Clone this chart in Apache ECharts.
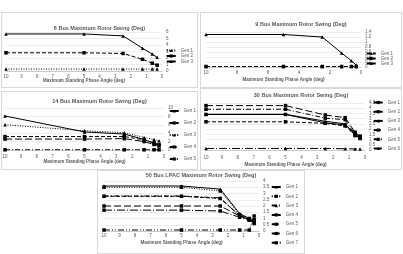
<!DOCTYPE html>
<html>
<head>
<meta charset="utf-8">
<script src="https://cdn.jsdelivr.net/npm/echarts@6/dist/echarts.min.js"></script>
<style>
  body { margin: 0; background: #fff; width: 403px; height: 254px; position: relative; overflow: hidden; }
  .box { position: absolute; border: 1px solid #d9d9d9; box-sizing: border-box; background: #fff; }
</style>
</head>
<body>
<div id="c6" class="box" style="left:1px;top:12px;width:197px;height:76px"></div>
<div id="c9" class="box" style="left:200px;top:12px;width:202px;height:76px"></div>
<div id="c14" class="box" style="left:1px;top:91px;width:197px;height:79px"></div>
<div id="c30" class="box" style="left:200px;top:88px;width:202px;height:82px"></div>
<div id="c50" class="box" style="left:97px;top:170px;width:208px;height:84px"></div>
<script>
// x positions shared by all charts (max standing phase angle, deg)
const phaseAngle = [10, 5, 2.5, 1.25, 0.625, 0.3125];

// 6 bus
const bus6Gen1 = [0.3, 0.3, 0.3, 0.3, 0.3, 0.3];
const bus6Gen2 = [2.8, 2.8, 2.7, 1.8, 1.2, 0.9];
const bus6Gen3 = [5.7, 5.7, 5.4, 3.5, 2.6, 2.1];

// 9 bus
const bus9Gen1 = [0.02, 0.02, 0.02, 0.02, 0.02, 0.02];
const bus9Gen2 = [0.02, 0.02, 0.02, 0.02, 0.02, 0.02];
const bus9Gen3 = [1.3, 1.3, 1.2, 0.56, 0.25, 0.08];

// 14 bus
const bus14Gen1 = [8.1, 4.3, 3.8, 2.5, 1.6, 1.0];
const bus14Gen2 = [3.2, 3.2, 3.2, 2.4, 1.7, 1.3];
const bus14Gen3 = [6.0, 4.6, 4.1, 3.0, 2.5, 2.2];
const bus14Gen4 = [2.6, 2.6, 2.7, 2.0, 1.3, 1.0];
const bus14Gen5 = [0.05, 0.05, 0.05, 0.05, 0.05, 0.05];

// 30 bus
const bus30Gen1 = [3.4, 3.4, 2.6, 2.4, 1.6, 1.3];
const bus30Gen2 = [2.7, 2.7, 2.55, 2.3, 1.4, 1.1];
const bus30Gen3 = [3.42, 3.42, 2.75, 2.5, 1.4, 1.2];
const bus30Gen4 = [4.25, 4.25, 3.35, 3.1, 1.7, 1.3];
const bus30Gen5 = [3.9, 3.9, 3.05, 2.9, 1.5, 1.2];
const bus30Gen6 = [0.15, 0.15, 0.15, 0.12, 0.1, 0.1];

// 50 bus LPAC
const bus50Gen1 = [3.6, 3.6, 3.35, 1.4, 1.0, 0.7];
const bus50Gen2 = [3.5, 3.5, 3.2, 1.3, 0.9, 0.8];
const bus50Gen3 = [2.8, 2.8, 2.65, 1.2, 0.9, 0.8];
const bus50Gen4 = [2.78, 2.78, 2.6, 1.25, 1.0, 0.9];
const bus50Gen5 = [2.0, 2.0, 2.0, 1.2, 0.9, 0.8];
const bus50Gen6 = [1.67, 1.67, 1.6, 1.1, 0.9, 0.6];
const bus50Gen7 = [0.08, 0.08, 0.08, 0.08, 0.08, 1.2];

const TXT = '#595959';
const FONT = 'Liberation Sans';

// dash patterns used by the Excel-style lines
const styles = {
  solid: 'solid',
  dot: [1, 1.5],
  dash: [4, 2],
  longDash: [7, 3],
  dashDot: [5, 2, 1, 2],
  longDashDot: [8, 2, 1, 2],
  dashDotDot: [6, 2, 1, 2, 1, 2]
};

function makeSeries(name, values, dash, symbol) {
  return {
    name: name,
    type: 'line',
    data: phaseAngle.map((x, i) => [x, values[i]]),
    symbol: symbol,
    symbolSize: 3.5,
    color: '#000',
    lineStyle: { color: '#000', width: 1, type: dash },
    itemStyle: { color: '#000' },
    animation: false
  };
}

// opt: title top, legend top/right/gap, x label margin, axis name gap
function makeChart(id, title, yMax, yStep, xStep, grid, series, opt) {
  const chart = echarts.init(document.getElementById(id));
  grid.outerBoundsMode = 'none'; // keep the plot exactly where the grid says
  chart.setOption({
    backgroundColor: '#fff',
    title: {
      text: title,
      left: 'center',
      top: opt.titleTop,
      padding: 0,
      textStyle: { fontSize: 5.5, fontWeight: 'bold', color: TXT, fontFamily: FONT }
    },
    grid: grid,
    legend: {
      orient: 'vertical',
      right: opt.legendRight,
      top: opt.legendTop,
      padding: 0,
      height: 200,
      itemGap: opt.legendGap,
      itemWidth: 9,
      itemHeight: 4,
      textStyle: { fontSize: 4.5, color: TXT, fontFamily: FONT },
      data: series.map(s => s.name)
    },
    xAxis: {
      type: 'value',
      inverse: true,
      min: 0,
      max: 10,
      interval: xStep,
      name: 'Maximum Standing Phase Angle (deg)',
      nameLocation: 'middle',
      nameGap: opt.nameGap,
      nameMoveOverlap: false,
      nameTextStyle: { fontSize: 4.5, fontWeight: 'bold', color: TXT, fontFamily: FONT },
      axisLine: { lineStyle: { color: '#bfbfbf', width: 0.8 } },
      axisTick: { show: false },
      splitLine: { show: false },
      axisLabel: { fontSize: 4.5, color: TXT, margin: opt.labelMargin, fontFamily: FONT }
    },
    yAxis: {
      type: 'value',
      position: 'right',
      min: 0,
      max: yMax,
      interval: yStep,
      axisLine: { show: false },
      axisTick: { show: false },
      splitLine: { lineStyle: { color: '#e0e0e0', width: 0.6 } },
      axisLabel: { fontSize: 4.5, color: TXT, margin: 4, fontFamily: FONT }
    },
    series: series
  });
}

makeChart('c6', '6 Bus Maximum Rotor Swing (Deg)', 6, 1, 1,
  { left: 4, right: 35, top: 19, bottom: 16 },
  [
    makeSeries('Gen 1', bus6Gen1, styles.dot, 'triangle'),
    makeSeries('Gen 2', bus6Gen2, styles.dash, 'rect'),
    makeSeries('Gen 3', bus6Gen3, styles.solid, 'triangle')
  ],
  { titleTop: 12, legendTop: 35, legendRight: 4, legendGap: 0.5, labelMargin: 3, nameGap: 7.5 });

makeChart('c9', '9 Bus Maximum Rotor Swing (Deg)', 1.4, 0.2, 2,
  { left: 5, right: 40, top: 19, bottom: 20 },
  [
    makeSeries('Gen 1', bus9Gen1, styles.dash, 'triangle'),
    makeSeries('Gen 2', bus9Gen2, styles.dash, 'rect'),
    makeSeries('Gen 3', bus9Gen3, styles.solid, 'triangle')
  ],
  { titleTop: 8, legendTop: 38, legendRight: 8, legendGap: 0, labelMargin: 3, nameGap: 10 });

makeChart('c14', '14 Bus Maximum Rotor Swing (Deg)', 10, 2, 1,
  { left: 3, right: 33, top: 16, bottom: 19 },
  [
    makeSeries('Gen 1', bus14Gen1, styles.solid, 'triangle'),
    makeSeries('Gen 2', bus14Gen2, styles.dash, 'rect'),
    makeSeries('Gen 3', bus14Gen3, styles.dot, 'triangle'),
    makeSeries('Gen 4', bus14Gen4, styles.longDash, 'rect'),
    makeSeries('Gen 5', bus14Gen5, styles.dashDot, 'rect')
  ],
  { titleTop: 6, legendTop: 16.5, legendRight: 1, legendGap: 7, labelMargin: 4, nameGap: 9.5 });

makeChart('c30', '30 Bus Maximum Rotor Swing (Deg)', 4.5, 0.5, 1,
  { left: 5, right: 36, top: 14, bottom: 19 },
  [
    makeSeries('Gen 1', bus30Gen1, styles.solid, 'rect'),
    makeSeries('Gen 2', bus30Gen2, styles.dash, 'rect'),
    makeSeries('Gen 3', bus30Gen3, styles.solid, 'triangle'),
    makeSeries('Gen 4', bus30Gen4, styles.longDash, 'rect'),
    makeSeries('Gen 5', bus30Gen5, styles.dashDot, 'rect'),
    makeSeries('Gen 6', bus30Gen6, styles.longDashDot, 'triangle')
  ],
  { titleTop: 3, legendTop: 11, legendRight: 1, legendGap: 4.2, labelMargin: 5, nameGap: 12 });

makeChart('c50', '50 Bus LPAC Maximum Rotor Swing (Deg)', 4, 0.5, 1,
  { left: 6, right: 45, top: 10, bottom: 22 },
  [
    makeSeries('Gen 1', bus50Gen1, styles.solid, 'triangle'),
    makeSeries('Gen 2', bus50Gen2, styles.dot, 'rect'),
    makeSeries('Gen 3', bus50Gen3, styles.dashDot, 'triangle'),
    makeSeries('Gen 4', bus50Gen4, styles.dash, 'rect'),
    makeSeries('Gen 5', bus50Gen5, styles.longDash, 'rect'),
    makeSeries('Gen 6', bus50Gen6, styles.longDashDot, 'rect'),
    makeSeries('Gen 7', bus50Gen7, styles.dashDotDot, 'rect')
  ],
  { titleTop: 1.5, legendTop: 13.5, legendRight: 6, legendGap: 4.3, labelMargin: 2.5, nameGap: 9.5 });
</script>
</body>
</html>
